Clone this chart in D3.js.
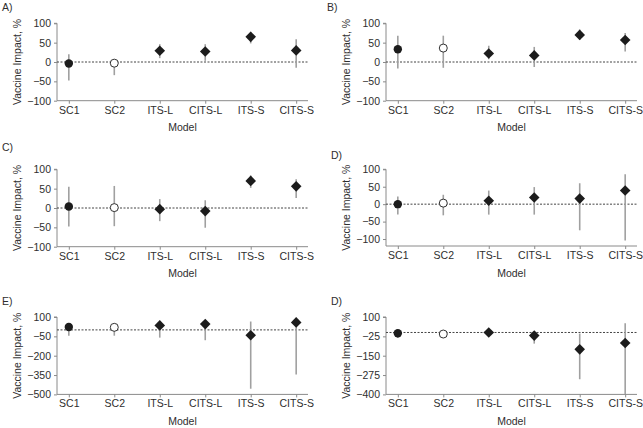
<!DOCTYPE html>
<html><head><meta charset="utf-8">
<script src="https://cdn.jsdelivr.net/npm/d3@7"></script>
<style>body{margin:0;background:#fff}svg{display:block}text{font-family:"Liberation Sans",Arial,sans-serif}</style>
</head><body><svg id="c" width="643" height="428"></svg>
<script>
const models = ["SC1","SC2","ITS-L","CITS-L","ITS-S","CITS-S"];
const panelLabels = ["A)","B)","C)","D)","E)","D)"];
const yTicksA = [100,50,0,-50,-100];
const yTicksD = [100,50,0,-50,-100];
const yTicksE = [100,-50,-200,-350,-500];
const yTicksF = [100,-25,-150,-275,-400];
const yDomains = [[-100,100],[-100,100],[-100,100],[-120,100],[-500,100],[-400,100]];

const estA = [-4,-3,29,27,65,30];
const lowA = [-48,-34,10,3,48,-15];
const highA = [20,5,46,46,78,59];

const estB = [33,36,22,17,70,57];
const lowB = [-17,-15,7,-13,57,27];
const highB = [68,68,42,39,84,75];

const estC = [4,1,-3,-8,70,56];
const lowC = [-48,-47,-34,-51,52,26];
const highC = [55,57,23,20,84,74];

const estD = [0,3,10,19,16,39];
const lowD = [-30,-32,-30,-30,-75,-104];
const highD = [22,27,39,49,60,86];

const estE = [22,20,35,45,-42,58];
const lowE = [-45,-45,-60,-80,-456,-345];
const highE = [40,35,55,60,65,80];

const estF = [-5,-10,0,-20,-109,-68];
const lowF = [-35,-25,-20,-72,-302,-398];
const highF = [10,5,20,5,-7,59];

const panels = [
  {label:panelLabels[0], ticks:yTicksA, dom:yDomains[0], est:estA, lo:lowA, hi:highA, x0:57, y0:23.3, lx:2, ly:7},
  {label:panelLabels[1], ticks:yTicksA, dom:yDomains[1], est:estB, lo:lowB, hi:highB, x0:386, y0:23.3, lx:327, ly:7},
  {label:panelLabels[2], ticks:yTicksA, dom:yDomains[2], est:estC, lo:lowC, hi:highC, x0:57, y0:169.3, lx:2, ly:147},
  {label:panelLabels[3], ticks:yTicksD, dom:yDomains[3], est:estD, lo:lowD, hi:highD, x0:386, y0:169.3, lx:331, ly:155},
  {label:panelLabels[4], ticks:yTicksE, dom:yDomains[4], est:estE, lo:lowE, hi:highE, x0:57, y0:317, lx:2, ly:301},
  {label:panelLabels[5], ticks:yTicksF, dom:yDomains[5], est:estF, lo:lowF, hi:highF, x0:386, y0:317, lx:331, ly:301}
];

const W = 251;
const FS = 10.5;
const svg = d3.select("#c");
const axisCol = "#8a8a8a", textCol = "#2e2e2e";

panels.forEach((p, pi) => {
  const ptop = p.y0;
  const y = d3.scaleLinear().domain(p.dom).range([ptop + (pi === 3 ? 76.7 : 77.4), ptop]);
  const ybot = y.range()[0];
  const x = d3.scalePoint().domain(models).range([p.x0, p.x0 + W]).padding(0.26);
  const g = svg.append("g");

  g.append("text").attr("x", p.lx).attr("y", p.ly).attr("dy", "0.35em")
    .attr("font-size", FS).attr("fill", textCol).text(p.label);

  const ya = g.append("g").attr("transform", `translate(${p.x0},0)`)
    .call(d3.axisLeft(y).tickValues(p.ticks).tickSize(3).tickPadding(3).tickFormat(d => d < 0 ? "\u2212" + Math.abs(d) : d));
  ya.select(".domain").attr("stroke", axisCol).attr("d", `M-3,${y(p.dom[1])}H0V${ybot}`);
  ya.selectAll(".tick line").attr("stroke", axisCol);
  ya.selectAll(".tick text").attr("font-size", FS).attr("fill", textCol).attr("font-family", "Liberation Sans, Arial, sans-serif");

  const xa = g.append("g").attr("transform", `translate(0,${ybot})`)
    .call(d3.axisBottom(x).tickSize(3).tickPadding(2.5).tickSizeOuter(0));
  xa.select(".domain").attr("stroke", axisCol).attr("d", `M${p.x0},0H${p.x0 + W}`);
  xa.selectAll(".tick line").attr("stroke", axisCol);
  xa.selectAll(".tick text").attr("font-size", FS).attr("fill", textCol).attr("font-family", "Liberation Sans, Arial, sans-serif");

  g.append("text").attr("x", p.x0 + W / 2).attr("y", ybot + 27).attr("dy", "0.35em")
    .attr("text-anchor", "middle").attr("font-size", FS).attr("fill", textCol).text("Model");
  g.append("text").attr("transform", `translate(${p.x0 - 40},${(ptop + ybot) / 2}) rotate(-90)`)
    .attr("dy", "0.35em").attr("text-anchor", "middle").attr("font-size", FS).attr("fill", textCol)
    .text("Vaccine Impact, %");

  g.append("line").attr("x1", p.x0).attr("x2", p.x0 + W).attr("y1", y(0)).attr("y2", y(0))
    .attr("stroke", "#444").attr("stroke-width", 1).attr("stroke-dasharray", "2,1.5");

  g.selectAll(".eb").data(models).join("line")
    .attr("x1", d => x(d)).attr("x2", d => x(d))
    .attr("y1", (d, i) => y(p.hi[i])).attr("y2", (d, i) => y(p.lo[i]))
    .attr("stroke", "#a0a0a0").attr("stroke-width", 1.6);

  models.forEach((m, i) => {
    const cx = x(m), cy = y(p.est[i]);
    if (i === 0) {
      g.append("circle").attr("cx", cx).attr("cy", cy).attr("r", 4.2).attr("fill", "#1c1c1c");
    } else if (i === 1) {
      g.append("circle").attr("cx", cx).attr("cy", cy).attr("r", 4).attr("fill", "#fff")
        .attr("stroke", "#1c1c1c").attr("stroke-width", 0.9);
    } else {
      const s = 5.3;
      g.append("path").attr("d", `M${cx},${cy - s}L${cx + s},${cy}L${cx},${cy + s}L${cx - s},${cy}Z`)
        .attr("fill", "#1c1c1c");
    }
  });
});
</script></body></html>
